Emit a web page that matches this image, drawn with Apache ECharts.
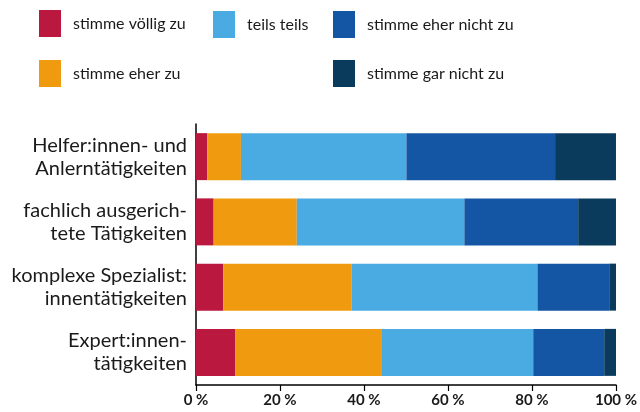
<!DOCTYPE html>
<html>
<head>
<meta charset="utf-8">
<script src="https://cdn.jsdelivr.net/npm/echarts@6/dist/echarts.min.js"></script>
<style>
  html, body { margin: 0; padding: 0; background: #fff; }
  #chart { width: 640px; height: 412px; }
</style>
</head>
<body>
<div id="chart"></div>
<script>
var categories = [
  'Helfer:innen- und\nAnlerntätigkeiten',
  'fachlich ausgerich-\ntete Tätigkeiten',
  'komplexe Spezialist:\ninnentätigkeiten',
  'Expert:innen-\ntätigkeiten'
];
var seriesNames = ['stimme völlig zu', 'stimme eher zu', 'teils teils', 'stimme eher nicht zu', 'stimme gar nicht zu'];
var voellig = [2.7, 4.2, 6.5, 9.3];
var eherZu = [8.0, 19.8, 30.5, 34.8];
var teils = [39.4, 39.9, 44.3, 36.2];
var eherNicht = [35.4, 27.1, 17.1, 16.9];
var garNicht = [14.5, 9.0, 1.6, 2.8];
var xTicks = [0, 20, 40, 60, 80, 100];

(function() {
  var colors = ['#BA183E', '#F09B0F', '#49ABE2', '#1456A4', '#0A3A5C'];
  var ink = '#1a1a1a';
  var values = [voellig, eherZu, teils, eherNicht, garNicht];
  var font = 'Lato';

  var chart = echarts.init(document.getElementById('chart'), null, { renderer: 'canvas' });

  // one legend per item so the grid layout of the original can be copied
  var legendPos = [
    { left: 39, top: 10 },
    { left: 39, top: 60 },
    { left: 213, top: 11 },
    { left: 333, top: 11 },
    { left: 333, top: 60 }
  ];
  var legends = seriesNames.map(function(name, i) {
    return {
      data: [name],
      left: legendPos[i].left,
      top: legendPos[i].top,
      padding: 0,
      itemWidth: 22,
      itemHeight: 27,
      icon: 'rect',
      selectedMode: false,
      textStyle: {
        color: ink,
        fontFamily: font,
        fontSize: 16,
        padding: [0, 0, 0, 7]
      }
    };
  });

  chart.setOption({
    animation: false,
    color: colors,
    legend: legends,
    grid: {
      left: 196,
      right: 23,
      top: 124,
      bottom: 27
    },
    xAxis: {
      type: 'value',
      min: xTicks[0],
      max: xTicks[xTicks.length - 1],
      interval: 20,
      splitLine: { show: false },
      axisLine: { show: true, lineStyle: { color: '#000', width: 1.5 } },
      axisTick: { show: true, length: 6, lineStyle: { color: '#000', width: 1.2 } },
      axisLabel: {
        color: ink,
        fontFamily: font,
        fontWeight: 'bold',
        fontSize: 15,
        margin: 8,
        formatter: '{value} %'
      }
    },
    yAxis: {
      type: 'category',
      inverse: true,
      data: categories,
      axisLine: { show: true, lineStyle: { color: '#000', width: 1.5 } },
      axisTick: { show: false },
      axisLabel: {
        color: ink,
        fontFamily: font,
        fontSize: 20,
        lineHeight: 23,
        margin: 9,
        align: 'right'
      }
    },
    series: seriesNames.map(function(name, i) {
      return {
        name: name,
        type: 'bar',
        stack: 'all',
        barWidth: 47,
        data: values[i],
        itemStyle: { color: colors[i] }
      };
    })
  });
})();
</script>
</body>
</html>
